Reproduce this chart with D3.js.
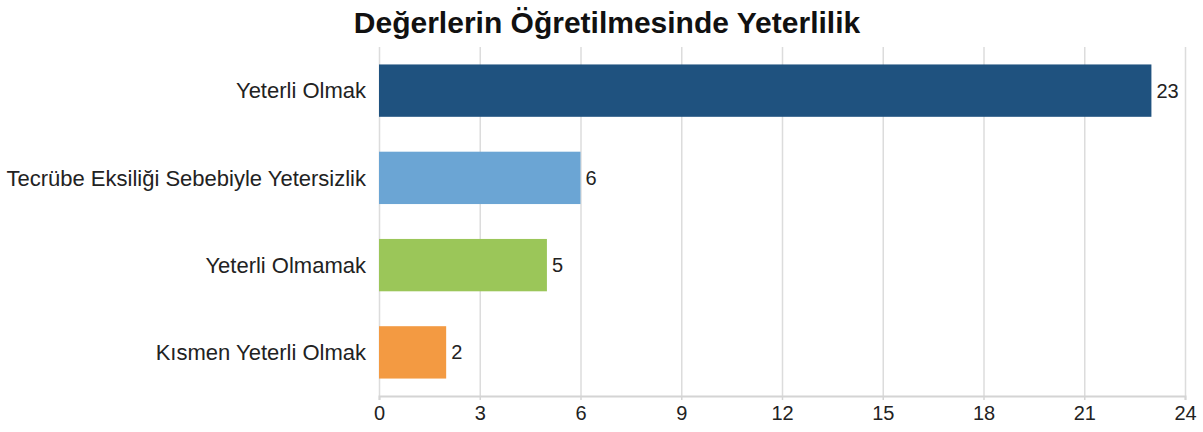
<!DOCTYPE html>
<html>
<head>
<meta charset="utf-8">
<script src="https://cdn.jsdelivr.net/npm/d3@7"></script>
<style>
  body { margin: 0; background: #fff; }
  svg { font-family: "Liberation Sans", Arial, sans-serif; }
  .grid line { stroke: #dcdcdc; stroke-width: 1.5; }
  .grid .domain { display: none; }
  .x.axis .domain { stroke: #d4d4d4; stroke-width: 2; }
  .x.axis line { stroke: #d4d4d4; stroke-width: 1.5; }
  .x.axis text { font-size: 20px; fill: #222; }
</style>
</head>
<body>
<div id="chartArea"></div>
<script>
// data
const categories = ["Yeterli Olmak", "Tecrübe Eksiliği Sebebiyle Yetersizlik", "Yeterli Olmamak", "Kısmen Yeterli Olmak"];
const values = [23, 6, 5, 2];
const colors = ["#1f527f", "#6ba5d4", "#9bc659", "#f39a42"];
const xTicks = [0, 3, 6, 9, 12, 15, 18, 21, 24];
const title = "Değerlerin Öğretilmesinde Yeterlilik";

// layout
const width = 1203, height = 432;
const margin = { top: 47, right: 18, bottom: 36, left: 379 };
const plotW = width - margin.left - margin.right;
const plotH = height - margin.top - margin.bottom;

var svg = d3.select("#chartArea").append("svg")
    .attr("width", width)
    .attr("height", height);

var g = svg.append("g")
    .attr("transform", "translate(" + margin.left + "," + margin.top + ")");

var xScale = d3.scaleLinear().domain([0, 24]).range([0, plotW]);
var yScale = d3.scaleBand().domain(categories).range([0, plotH])
    .paddingInner(0.4).paddingOuter(0.2);

// title
svg.append("text")
    .attr("x", 607)
    .attr("y", 33)
    .attr("text-anchor", "middle")
    .style("font-size", "30px")
    .style("font-weight", "bold")
    .style("fill", "#111")
    .text(title);

// vertical grid
g.append("g")
    .attr("class", "grid")
    .call(d3.axisBottom(xScale).tickValues(xTicks).tickSize(plotH).tickFormat(""));

// x axis
g.append("g")
    .attr("class", "x axis")
    .attr("transform", "translate(0," + plotH + ")")
    .call(d3.axisBottom(xScale).tickValues(xTicks).tickSizeOuter(0).tickSize(4).tickPadding(6));

// bars
g.selectAll(".bar")
    .data(values)
    .enter()
    .append("rect")
    .attr("class", "bar")
    .attr("x", xScale(0))
    .attr("y", function (d, i) { return yScale(categories[i]); })
    .attr("width", function (d) { return xScale(d) - xScale(0); })
    .attr("height", yScale.bandwidth())
    .style("fill", function (d, i) { return colors[i]; });

// value labels
g.selectAll(".value")
    .data(values)
    .enter()
    .append("text")
    .attr("class", "value")
    .attr("x", function (d) { return xScale(d) + 5; })
    .attr("y", function (d, i) { return yScale(categories[i]) + yScale.bandwidth() / 2; })
    .attr("dy", "0.35em")
    .style("font-size", "20px")
    .style("fill", "#222")
    .text(function (d) { return d; });

// category labels
g.selectAll(".cat")
    .data(categories)
    .enter()
    .append("text")
    .attr("class", "cat")
    .attr("x", -13)
    .attr("y", function (d) { return yScale(d) + yScale.bandwidth() / 2; })
    .attr("dy", "0.35em")
    .attr("text-anchor", "end")
    .style("font-size", "22px")
    .style("fill", "#222")
    .text(function (d) { return d; });
</script>
</body>
</html>
